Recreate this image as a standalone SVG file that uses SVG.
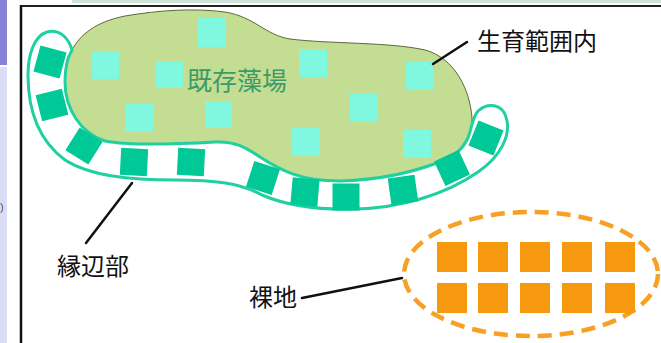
<svg xmlns="http://www.w3.org/2000/svg" width="661" height="343" viewBox="0 0 661 343">
<style>
.lbl{font-family:"Noto Sans CJK JP","Noto Sans CJK SC",sans-serif;font-size:24px;fill:#111}
.seg{fill:#00c896}
.cy{fill:#80f8e0}
.or{fill:#f7990f}
.lead{stroke:#111;stroke-width:2.5;fill:none;stroke-linecap:round}
</style>
<rect x="0" y="0" width="661" height="343" fill="#fff"/>
<rect x="0" y="0" width="7" height="65" fill="#8a80d6"/>
<rect x="0" y="67" width="7" height="276" fill="#dcdcf6"/>
<text x="0" y="211" font-family="Liberation Sans, sans-serif" font-size="11" fill="#555">)</text>
<rect x="72" y="0" width="589" height="3" fill="#cfe3d6"/>
<line x1="20" y1="6" x2="661" y2="6" stroke="#222" stroke-width="2"/>
<line x1="21" y1="5" x2="21" y2="343" stroke="#111" stroke-width="2.5"/>

<g id="kizon">
<path d="M72,50 C80,35 95,22 125,16 C160,10 195,8 225,12 C255,17 265,35 290,39 C330,44 390,42 425,50 C455,58 470,90 472,118 C473,140 460,152 445,160 C415,172 380,180 340,181 C300,181 280,170 260,157 C245,147 235,141 215,142 C180,144 130,146 105,141 C80,133 65,108 65,82 C65,68 67,58 72,50 Z" fill="#c3dd92" stroke="#5a6a3a" stroke-width="1"/>
<rect class="cy" x="197" y="18" width="28" height="29"/>
<rect class="cy" x="92" y="51" width="27" height="28"/>
<rect class="cy" x="156" y="61" width="27" height="27"/>
<rect class="cy" x="125" y="104" width="28" height="28"/>
<rect class="cy" x="205" y="101" width="27" height="27"/>
<rect class="cy" x="299" y="49" width="28" height="28"/>
<rect class="cy" x="350" y="93" width="28" height="28"/>
<rect class="cy" x="292" y="128" width="28" height="28"/>
<rect class="cy" x="406" y="62" width="27" height="28"/>
<rect class="cy" x="403" y="130" width="28" height="28"/>
<text x="187" y="90" font-family="Noto Sans CJK JP, Noto Sans CJK SC, sans-serif" font-size="25" fill="#3c9a6a">既存藻場</text>
</g>

<g id="enpen">
<path d="M72,50 C68,36 58,29 47,32 C34,36 28,55 28,75 C28,110 38,140 65,160 C90,176 130,180 175,180 C215,180 240,183 262,195 C290,207 320,210 355,209 C400,208 445,195 478,172 C500,157 512,135 506,117 C502,104 488,102 478,111 C472,118 472,128 468,138 C462,150 455,155 445,160 C415,172 380,180 340,181 C300,181 280,170 260,157 C245,147 235,141 215,142 C180,144 130,146 105,141 C80,133 65,108 65,82 C65,68 67,58 72,50 Z" fill="#fff" stroke="#20d0a0" stroke-width="3"/>
<rect class="seg" x="-13.5" y="-13.5" width="27" height="27" transform="translate(50,62) rotate(15)"/>
<rect class="seg" x="-13.5" y="-13.5" width="27" height="27" transform="translate(52,105) rotate(-14)"/>
<rect class="seg" x="-13.5" y="-13.5" width="27" height="27" transform="translate(84,146) rotate(32)"/>
<rect class="seg" x="-13.5" y="-13.5" width="27" height="27" transform="translate(134,162) rotate(3)"/>
<rect class="seg" x="-13.5" y="-13.5" width="27" height="27" transform="translate(191,162) rotate(3)"/>
<rect class="seg" x="-13.5" y="-13.5" width="27" height="27" transform="translate(263,178) rotate(18)"/>
<rect class="seg" x="-13.5" y="-13.5" width="27" height="27" transform="translate(305,192) rotate(5)"/>
<rect class="seg" x="-13.5" y="-13.5" width="27" height="27" transform="translate(346,197) rotate(0)"/>
<rect class="seg" x="-13.5" y="-13.5" width="27" height="27" transform="translate(403,190) rotate(-8)"/>
<rect class="seg" x="-13.5" y="-13.5" width="27" height="27" transform="translate(452,168) rotate(-25)"/>
<rect class="seg" x="-13.5" y="-13.5" width="27" height="27" transform="translate(486,138) rotate(22)"/>
</g>

<g id="rachi">
<ellipse cx="531" cy="274" rx="127" ry="62" fill="none" stroke="#f7a024" stroke-width="4.5" stroke-dasharray="14 8"/>
<rect class="or" x="437" y="242" width="30" height="30"/>
<rect class="or" x="478" y="242" width="30" height="30"/>
<rect class="or" x="520" y="242" width="30" height="30"/>
<rect class="or" x="562" y="242" width="30" height="30"/>
<rect class="or" x="605" y="242" width="30" height="30"/>
<rect class="or" x="437" y="283" width="30" height="30"/>
<rect class="or" x="478" y="283" width="30" height="30"/>
<rect class="or" x="520" y="283" width="30" height="30"/>
<rect class="or" x="562" y="283" width="30" height="30"/>
<rect class="or" x="605" y="283" width="30" height="30"/>
</g>

<g id="connectors">
<line class="lead" x1="433" y1="64" x2="467" y2="42"/>
<line class="lead" x1="132" y1="183" x2="86" y2="243"/>
<line class="lead" x1="302" y1="298" x2="402" y2="278"/>
</g>

<g id="labels">
<text class="lbl" x="477" y="50">生育範囲内</text>
<text class="lbl" x="57" y="275">縁辺部</text>
<text class="lbl" x="249" y="306">裸地</text>
</g>
</svg>
